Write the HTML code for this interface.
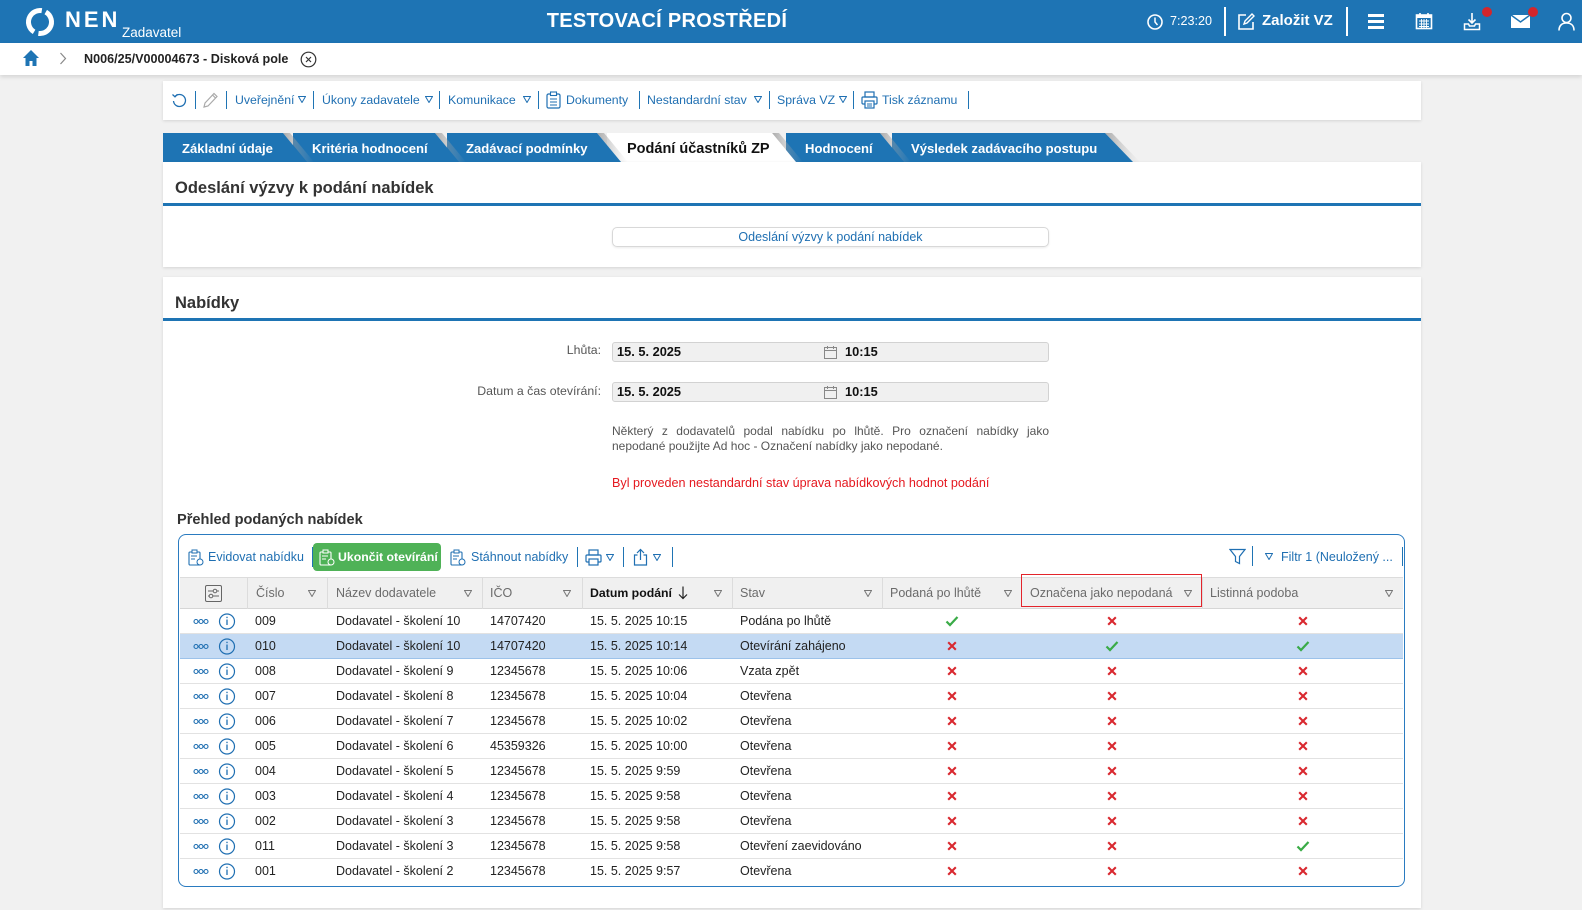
<!DOCTYPE html>
<html><head><meta charset="utf-8">
<style>
*{box-sizing:border-box;margin:0;padding:0}
body{width:1582px;height:910px;overflow:hidden;background:#f1f1f1;position:relative;font-family:"Liberation Sans",Arial,sans-serif}
.a{position:absolute;white-space:nowrap}
.w{color:#fff}
.bl{color:#1f6fb2}
.tb{font-size:12.3px;line-height:20px;top:90px;color:#1f6fb2}
.sep{position:absolute;width:1px;background:#1f74b4}
.h{font-size:12.5px;line-height:32px;top:577px;color:#6b6b6b}
.r{font-size:12.5px;line-height:25px;color:#222}
.row{position:absolute;left:180px;width:1223px;height:25px;border-bottom:1px solid #e2e2e2}
.vl{position:absolute;top:577px;height:32px;width:1px;background:#dcdcdc}
</style></head><body>

<!-- HEADER -->
<div class="a" style="left:0;top:0;width:1582px;height:43px;background:#1e74b4"></div>
<svg class="a" style="left:24px;top:7px" width="32" height="30" viewBox="0 0 32 30">
<circle cx="16" cy="15" r="11.5" fill="none" stroke="#fff" stroke-width="5" stroke-dasharray="31.5 4.6 31.5 4.6" transform="rotate(-60 16 15)"/>
</svg>
<div class="a w" style="left:65px;top:9px;font-size:22px;line-height:22px;font-weight:bold;letter-spacing:3px">NEN</div>
<div class="a w" style="left:122px;top:25px;font-size:13.5px;line-height:16px">Zadavatel</div>
<div class="a w" style="left:467px;top:9px;width:400px;text-align:center;font-size:20px;line-height:24px;font-weight:bold;letter-spacing:0.3px">TESTOVACÍ PROSTŘEDÍ</div>

<svg class="a" style="left:1146px;top:13px" width="18" height="18" viewBox="0 0 18 18"><circle cx="9" cy="9" r="7" fill="none" stroke="#fff" stroke-width="1.6"/><path d="M9 4.5V9l2.5 3" fill="none" stroke="#fff" stroke-width="1.5"/></svg>
<div class="a w" style="left:1170px;top:12px;font-size:12.6px;line-height:18px">7:23:20</div>
<div class="a" style="left:1224px;top:7px;width:2px;height:29px;background:#fff"></div>
<svg class="a" style="left:1237px;top:12px" width="19" height="19" viewBox="0 0 19 19"><path d="M9 3H2v14h14v-7" fill="none" stroke="#fff" stroke-width="1.6"/><path d="M7 12l1-3 7-7 2 2-7 7z" fill="none" stroke="#fff" stroke-width="1.4"/></svg>
<div class="a w" style="left:1262px;top:11px;font-size:15px;line-height:20px;font-weight:bold">Založit VZ</div>
<div class="a" style="left:1346px;top:7px;width:2px;height:29px;background:#fff"></div>
<div class="a" style="left:1368px;top:14px;width:16px;height:2.5px;background:#fff"></div>
<div class="a" style="left:1368px;top:20px;width:16px;height:2.5px;background:#fff"></div>
<div class="a" style="left:1368px;top:26px;width:16px;height:2.5px;background:#fff"></div>
<svg class="a" style="left:1415px;top:12px" width="18" height="18" viewBox="0 0 18 18"><rect x="1.5" y="3" width="15" height="13.5" fill="none" stroke="#fff" stroke-width="1.6"/><rect x="1.5" y="3" width="15" height="3" fill="#fff"/><path d="M5 1v3M13 1v3" stroke="#fff" stroke-width="1.6"/><path d="M4 9h10M4 12h10M4 14.5h10M6.5 7v9M9 7v9M11.5 7v9" stroke="#fff" stroke-width="0.9"/></svg>
<svg class="a" style="left:1463px;top:12px" width="18" height="19" viewBox="0 0 18 19"><path d="M9 1v10M5.5 7.5L9 11l3.5-3.5" fill="none" stroke="#fff" stroke-width="1.6"/><path d="M1.5 12v5.5h15V12h-4l-1 2h-5l-1-2z" fill="none" stroke="#fff" stroke-width="1.5"/></svg>
<div class="a" style="left:1482px;top:7px;width:10px;height:10px;border-radius:50%;background:#d3262c"></div>
<svg class="a" style="left:1510px;top:14px" width="21" height="15" viewBox="0 0 21 15"><rect x="1" y="1" width="19" height="13" fill="#fff"/><path d="M1 1l9.5 7L20 1" fill="none" stroke="#1e74b4" stroke-width="1.5"/></svg>
<div class="a" style="left:1528px;top:7px;width:10px;height:10px;border-radius:50%;background:#d3262c"></div>
<svg class="a" style="left:1557px;top:12px" width="19" height="19" viewBox="0 0 19 19"><circle cx="9.5" cy="6" r="4.5" fill="none" stroke="#fff" stroke-width="1.6"/><path d="M2 18.5c0-5 3-7.5 7.5-7.5s7.5 2.5 7.5 7.5" fill="none" stroke="#fff" stroke-width="1.6"/></svg>

<!-- BREADCRUMB -->
<div class="a" style="left:0;top:43px;width:1582px;height:32px;background:#fff;box-shadow:0 2px 4px rgba(0,0,0,0.12)"></div>
<svg class="a" style="left:22px;top:49px" width="18" height="18" viewBox="0 0 18 18"><path d="M9 1L1 9h2.5v8h4v-5h3v5h4V9H17z" fill="#1e74b4"/></svg>
<svg class="a" style="left:59px;top:52px" width="8" height="13" viewBox="0 0 8 13"><path d="M1.5 1l5 5.5-5 5.5" fill="none" stroke="#888" stroke-width="1.2"/></svg>
<div class="a" style="left:84px;top:50px;font-size:12.6px;line-height:18px;font-weight:bold;color:#222">N006/25/V00004673 - Disková pole</div>
<svg class="a" style="left:300px;top:51px" width="17" height="17" viewBox="0 0 17 17"><circle cx="8.5" cy="8.5" r="7.3" fill="none" stroke="#333" stroke-width="1.2"/><path d="M6 6l5 5M11 6l-5 5" stroke="#333" stroke-width="1.2"/></svg>

<!-- TOOLBAR PANEL -->
<div class="a" style="left:163px;top:81px;width:1258px;height:39px;background:#fff;box-shadow:0 1px 3px rgba(0,0,0,0.12)"></div>
<svg class="a" style="left:171px;top:92px" width="17" height="17" viewBox="0 0 17 17"><path d="M4 4.5A6 6 0 1 1 2.5 9" fill="none" stroke="#1f6fb2" stroke-width="1.3"/><path d="M1.5 2.5L4 4.8 6.5 2.3" fill="none" stroke="#1f6fb2" stroke-width="1.3"/></svg>
<div class="sep" style="left:195px;top:91px;height:18px"></div>
<svg class="a" style="left:202px;top:91px" width="17" height="18" viewBox="0 0 17 18"><path d="M2 16l1-4 9-9.5 3 3L6 15z M10.5 4l3 3" fill="none" stroke="#aaa" stroke-width="1.2"/></svg>
<div class="sep" style="left:226px;top:91px;height:18px"></div>
<div class="a tb" style="left:235px">Uveřejnění</div>
<svg class="a" style="left:298px;top:96px" width="8" height="7"><path d="M0.5 0.5H7.5L4 6.5Z" fill="none" stroke="#1f6fb2"/></svg>
<div class="sep" style="left:313px;top:91px;height:18px"></div>
<div class="a tb" style="left:322px">Úkony zadavatele</div>
<svg class="a" style="left:425px;top:96px" width="8" height="7"><path d="M0.5 0.5H7.5L4 6.5Z" fill="none" stroke="#1f6fb2"/></svg>
<div class="sep" style="left:439px;top:91px;height:18px"></div>
<div class="a tb" style="left:448px">Komunikace</div>
<svg class="a" style="left:523px;top:96px" width="8" height="7"><path d="M0.5 0.5H7.5L4 6.5Z" fill="none" stroke="#1f6fb2"/></svg>
<div class="sep" style="left:538px;top:91px;height:18px"></div>
<svg class="a" style="left:546px;top:91px" width="15" height="18" viewBox="0 0 15 18"><rect x="1" y="3" width="13" height="14" rx="1.5" fill="none" stroke="#1f6fb2" stroke-width="1.2"/><rect x="4.5" y="1" width="6" height="3.5" fill="#fff" stroke="#1f6fb2" stroke-width="1.1"/><path d="M4 8h7M4 11h7M4 14h7" stroke="#1f6fb2"/></svg>
<div class="a tb" style="left:566px">Dokumenty</div>
<div class="sep" style="left:639px;top:91px;height:18px"></div>
<div class="a tb" style="left:647px">Nestandardní stav</div>
<svg class="a" style="left:754px;top:96px" width="8" height="7"><path d="M0.5 0.5H7.5L4 6.5Z" fill="none" stroke="#1f6fb2"/></svg>
<div class="sep" style="left:769px;top:91px;height:18px"></div>
<div class="a tb" style="left:777px">Správa VZ</div>
<svg class="a" style="left:839px;top:96px" width="8" height="7"><path d="M0.5 0.5H7.5L4 6.5Z" fill="none" stroke="#1f6fb2"/></svg>
<div class="sep" style="left:853px;top:91px;height:18px"></div>
<svg class="a" style="left:861px;top:91px" width="17" height="18" viewBox="0 0 17 18"><rect x="4" y="1" width="9" height="5" fill="none" stroke="#1f6fb2" stroke-width="1.2"/><rect x="1" y="6" width="15" height="7" rx="1" fill="none" stroke="#1f6fb2" stroke-width="1.2"/><rect x="4" y="10" width="9" height="7" fill="#fff" stroke="#1f6fb2" stroke-width="1.2"/><path d="M6 13h5M6 15h5" stroke="#1f6fb2"/></svg>
<div class="a tb" style="left:882px">Tisk záznamu</div>
<div class="sep" style="left:968px;top:91px;height:18px"></div>

<!-- TABS -->
<svg class="a" style="left:0;top:133px" width="1200" height="30" viewBox="0 0 1200 30">
<defs><linearGradient id="sh" x1="0" x2="1" y1="0" y2="0"><stop offset="0" stop-color="#8d8d8d" stop-opacity="0.7"/><stop offset="1" stop-color="#bbb" stop-opacity="0"/></linearGradient></defs>
<polygon points="1105,0 1112,0 1140,29 1133,29" fill="url(#sh)"/>
<polygon points="892,0 1105,0 1133,29 892,29" fill="#1e74b4"/>
<polygon points="880,0 887,0 911,29 904,29" fill="url(#sh)"/>
<polygon points="786,0 880,0 904,29 786,29" fill="#1e74b4"/>
<polygon points="772,0 779,0 803,29 796,29" fill="url(#sh)"/>
<polygon points="607,0 772,0 796,29 607,29" fill="#fff"/>
<polygon points="597,0 604,0 628,29 621,29" fill="url(#sh)"/>
<polygon points="447,0 597,0 621,29 447,29" fill="#1e74b4"/>
<polygon points="435,0 442,0 466,29 459,29" fill="url(#sh)"/>
<polygon points="293,0 435,0 459,29 293,29" fill="#1e74b4"/>
<polygon points="283,0 290,0 314,29 307,29" fill="url(#sh)"/>
<polygon points="163,0 283,0 307,29 163,29" fill="#1e74b4"/>
</svg>
<div class="a w" style="left:182px;top:140px;font-size:13.1px;line-height:18px;font-weight:bold">Základní údaje</div>
<div class="a w" style="left:312px;top:140px;font-size:13.1px;line-height:18px;font-weight:bold">Kritéria hodnocení</div>
<div class="a w" style="left:466px;top:140px;font-size:13.1px;line-height:18px;font-weight:bold">Zadávací podmínky</div>
<div class="a" style="left:627px;top:139px;font-size:14.5px;line-height:20px;font-weight:bold;color:#111">Podání účastníků ZP</div>
<div class="a w" style="left:805px;top:140px;font-size:13.1px;line-height:18px;font-weight:bold">Hodnocení</div>
<div class="a w" style="left:911px;top:140px;font-size:13.1px;line-height:18px;font-weight:bold">Výsledek zadávacího postupu</div>

<!-- PANEL 1 -->
<div class="a" style="left:163px;top:162px;width:1258px;height:105px;background:#fff;box-shadow:0 1px 3px rgba(0,0,0,0.12)"></div>
<div class="a" style="left:175px;top:177px;font-size:16.5px;line-height:22px;font-weight:bold;color:#333">Odeslání výzvy k podání nabídek</div>
<div class="a" style="left:163px;top:203px;width:1258px;height:3px;background:#1e74b4"></div>
<div class="a bl" style="left:612px;top:227px;width:437px;height:20px;border:1px solid #d8d8d8;border-radius:5px;box-shadow:0 1px 2px rgba(0,0,0,0.08);text-align:center;font-size:12.5px;line-height:18px">Odeslání výzvy k podání nabídek</div>

<!-- PANEL 2 -->
<div class="a" style="left:163px;top:277px;width:1258px;height:631px;background:#fff;box-shadow:0 1px 3px rgba(0,0,0,0.12)"></div>
<div class="a" style="left:175px;top:292px;font-size:16.5px;line-height:22px;font-weight:bold;color:#333">Nabídky</div>
<div class="a" style="left:163px;top:318px;width:1258px;height:3px;background:#1e74b4"></div>

<div class="a" style="left:400px;width:201px;text-align:right;top:341px;font-size:12.3px;line-height:18px;color:#555">Lhůta:</div>
<div class="a" style="left:612px;top:342px;width:437px;height:20px;background:#f0f0f0;border:1px solid #d2d2d2;border-radius:3px"></div>
<div class="a" style="left:617px;top:343px;font-size:12.8px;line-height:18px;font-weight:bold;color:#111">15. 5. 2025</div>
<svg class="a" style="left:824px;top:346px" width="13" height="13" viewBox="0 0 13 13"><rect x="0.5" y="1.5" width="12" height="11" fill="none" stroke="#888"/><path d="M0.5 4.5h12M3.5 0v3M9.5 0v3" stroke="#888"/></svg>
<div class="a" style="left:845px;top:343px;font-size:12.8px;line-height:18px;font-weight:bold;color:#111">10:15</div>

<div class="a" style="left:400px;width:201px;text-align:right;top:382px;font-size:12.3px;line-height:18px;color:#555">Datum a čas otevírání:</div>
<div class="a" style="left:612px;top:382px;width:437px;height:20px;background:#f0f0f0;border:1px solid #d2d2d2;border-radius:3px"></div>
<div class="a" style="left:617px;top:383px;font-size:12.8px;line-height:18px;font-weight:bold;color:#111">15. 5. 2025</div>
<svg class="a" style="left:824px;top:386px" width="13" height="13" viewBox="0 0 13 13"><rect x="0.5" y="1.5" width="12" height="11" fill="none" stroke="#888"/><path d="M0.5 4.5h12M3.5 0v3M9.5 0v3" stroke="#888"/></svg>
<div class="a" style="left:845px;top:383px;font-size:12.8px;line-height:18px;font-weight:bold;color:#111">10:15</div>

<div class="a" style="left:612px;top:424px;width:437px;font-size:12px;line-height:15px;color:#555;text-align:justify;text-align-last:justify;white-space:normal">Některý z dodavatelů podal nabídku po lhůtě. Pro označení nabídky jako</div>
<div class="a" style="left:612px;top:439px;font-size:12px;line-height:15px;color:#555">nepodané použijte Ad hoc - Označení nabídky jako nepodané.</div>

<div class="a" style="left:612px;top:474px;font-size:12.6px;line-height:18px;color:#e5181f">Byl proveden nestandardní stav úprava nabídkových hodnot podání</div>

<div class="a" style="left:177px;top:510px;font-size:14.6px;line-height:20px;font-weight:bold;color:#333">Přehled podaných nabídek</div>

<!-- TABLE CONTAINER -->
<div class="a" style="left:178px;top:534px;width:1227px;height:353px;border:1.5px solid #2a7bc0;border-radius:8px;background:#fff"></div>
<svg class="a" style="left:188px;top:549px" width="16" height="17" viewBox="0 0 16 17"><rect x="1" y="3" width="11" height="13" rx="1" fill="none" stroke="#1f6fb2" stroke-width="1.1"/><rect x="4" y="1" width="5" height="3" fill="#fff" stroke="#1f6fb2"/><path d="M3 7h6M3 10h4" stroke="#1f6fb2"/><circle cx="12" cy="13" r="3" fill="#fff" stroke="#1f6fb2"/></svg>
<div class="a bl" style="left:208px;top:548px;font-size:12.5px;line-height:18px">Evidovat nabídku</div>
<div class="sep" style="left:312px;top:547px;height:20px"></div>
<div class="a" style="left:313px;top:543px;width:128px;height:28px;background:#4fb257;border-radius:4px"></div>
<svg class="a" style="left:319px;top:549px" width="16" height="17" viewBox="0 0 16 17"><rect x="1" y="3" width="11" height="13" rx="1" fill="none" stroke="#fff" stroke-width="1.1"/><rect x="4" y="1" width="5" height="3" fill="#4fb257" stroke="#fff"/><path d="M3 7h6M3 10h4" stroke="#fff"/><circle cx="12" cy="13" r="3" fill="#4fb257" stroke="#fff"/></svg>
<div class="a w" style="left:338px;top:548px;font-size:12.3px;line-height:18px;font-weight:bold">Ukončit otevírání</div>
<svg class="a" style="left:450px;top:549px" width="16" height="17" viewBox="0 0 16 17"><rect x="1" y="3" width="11" height="13" rx="1" fill="none" stroke="#1f6fb2" stroke-width="1.1"/><rect x="4" y="1" width="5" height="3" fill="#fff" stroke="#1f6fb2"/><path d="M3 7h6M3 10h4" stroke="#1f6fb2"/><circle cx="12" cy="13" r="3" fill="#fff" stroke="#1f6fb2"/></svg>
<div class="a bl" style="left:471px;top:548px;font-size:12.5px;line-height:18px">Stáhnout nabídky</div>
<div class="sep" style="left:577px;top:547px;height:20px"></div>
<svg class="a" style="left:585px;top:549px" width="17" height="17" viewBox="0 0 17 17"><rect x="4" y="1" width="9" height="5" fill="none" stroke="#1f6fb2" stroke-width="1.2"/><rect x="1" y="6" width="15" height="7" rx="1" fill="none" stroke="#1f6fb2" stroke-width="1.2"/><rect x="4" y="10" width="9" height="6" fill="#fff" stroke="#1f6fb2" stroke-width="1.2"/></svg>
<svg class="a" style="left:606px;top:554px" width="8" height="7"><path d="M0.5 0.5H7.5L4 6.5Z" fill="none" stroke="#1f6fb2"/></svg>
<div class="sep" style="left:623px;top:547px;height:20px"></div>
<svg class="a" style="left:633px;top:548px" width="15" height="18" viewBox="0 0 15 18"><path d="M4.5 7H1.5v10h12V7h-3" fill="none" stroke="#1f6fb2" stroke-width="1.2"/><path d="M7.5 12V1.5M4 5l3.5-3.5L11 5" fill="none" stroke="#1f6fb2" stroke-width="1.2"/></svg>
<svg class="a" style="left:653px;top:554px" width="8" height="7"><path d="M0.5 0.5H7.5L4 6.5Z" fill="none" stroke="#1f6fb2"/></svg>
<div class="sep" style="left:672px;top:547px;height:20px"></div>

<svg class="a" style="left:1229px;top:548px" width="17" height="17" viewBox="0 0 17 17"><path d="M1 1.5h15l-5.5 7v7l-4-2v-5z" fill="none" stroke="#1f6fb2" stroke-width="1.2"/></svg>
<div class="sep" style="left:1252px;top:546px;height:20px"></div>
<svg class="a" style="left:1265px;top:553px" width="8" height="7"><path d="M0.5 0.5H7.5L4 6.5Z" fill="none" stroke="#1f6fb2"/></svg>
<div class="a bl" style="left:1281px;top:548px;font-size:12.5px;line-height:18px">Filtr 1 (Neuložený ...</div>
<div class="sep" style="left:1402px;top:547px;height:19px"></div>

<!-- HEADER ROW -->
<div class="a" style="left:180px;top:577px;width:1223px;height:32px;background:#f0f0f0;border-top:1px solid #dcdcdc;border-bottom:1px solid #d6d6d6"></div>
<div class="vl" style="left:247px"></div>
<div class="vl" style="left:327px"></div>
<div class="vl" style="left:482px"></div>
<div class="vl" style="left:582px"></div>
<div class="vl" style="left:732px"></div>
<div class="vl" style="left:882px"></div>
<div class="vl" style="left:1202px"></div>
<svg class="a" style="left:205px;top:585px" width="17" height="17" viewBox="0 0 17 17"><rect x="0.5" y="0.5" width="16" height="16" rx="1.5" fill="none" stroke="#666"/><path d="M3 6h11M3 11h11" stroke="#666"/><circle cx="10" cy="6" r="1.8" fill="#f0f0f0" stroke="#666"/><circle cx="6" cy="11" r="1.8" fill="#f0f0f0" stroke="#666"/></svg>
<div class="a h" style="left:256px">Číslo</div>
<div class="a h" style="left:336px">Název dodavatele</div>
<div class="a h" style="left:490px">IČO</div>
<div class="a h" style="left:590px;color:#111;font-weight:bold;font-size:12.3px">Datum podání</div>
<svg class="a" style="left:678px;top:586px" width="10" height="14" viewBox="0 0 10 14"><path d="M5 0.5v12M1 8.5l4 4 4-4" fill="none" stroke="#222" stroke-width="1.2"/></svg>
<div class="a h" style="left:740px">Stav</div>
<div class="a h" style="left:890px">Podaná po lhůtě</div>
<div class="a h" style="left:1030px">Označena jako nepodaná</div>
<div class="a h" style="left:1210px">Listinná podoba</div>
<svg class="a" style="left:308px;top:590px" width="8" height="7"><path d="M0.5 0.5H7.5L4 6.5Z" fill="none" stroke="#777"/></svg>
<svg class="a" style="left:464px;top:590px" width="8" height="7"><path d="M0.5 0.5H7.5L4 6.5Z" fill="none" stroke="#777"/></svg>
<svg class="a" style="left:563px;top:590px" width="8" height="7"><path d="M0.5 0.5H7.5L4 6.5Z" fill="none" stroke="#777"/></svg>
<svg class="a" style="left:714px;top:590px" width="8" height="7"><path d="M0.5 0.5H7.5L4 6.5Z" fill="none" stroke="#777"/></svg>
<svg class="a" style="left:864px;top:590px" width="8" height="7"><path d="M0.5 0.5H7.5L4 6.5Z" fill="none" stroke="#777"/></svg>
<svg class="a" style="left:1004px;top:590px" width="8" height="7"><path d="M0.5 0.5H7.5L4 6.5Z" fill="none" stroke="#777"/></svg>
<svg class="a" style="left:1184px;top:590px" width="8" height="7"><path d="M0.5 0.5H7.5L4 6.5Z" fill="none" stroke="#777"/></svg>
<svg class="a" style="left:1385px;top:590px" width="8" height="7"><path d="M0.5 0.5H7.5L4 6.5Z" fill="none" stroke="#777"/></svg>
<div class="a" style="left:1021px;top:574px;width:181px;height:33px;border:1.5px solid #e3242b"></div>

<!-- ROWS -->
<div class="row" style="top:609px"></div>
<div class="row" style="top:634px;background:#c4daf3;border-bottom:1px solid #9cc2ea"></div>
<div class="row" style="top:659px"></div>
<div class="row" style="top:684px"></div>
<div class="row" style="top:709px"></div>
<div class="row" style="top:734px"></div>
<div class="row" style="top:759px"></div>
<div class="row" style="top:784px"></div>
<div class="row" style="top:809px"></div>
<div class="row" style="top:834px"></div>
<div class="row" style="top:859px;border-bottom:none"></div>

<svg class="a" style="left:191px;top:609px" width="50" height="275" viewBox="0 0 50 275">
<defs><g id="ic"><circle cx="5" cy="12.5" r="2" fill="none" stroke="#1f6fb2" stroke-width="1.1"/><circle cx="10" cy="12.5" r="2" fill="none" stroke="#1f6fb2" stroke-width="1.1"/><circle cx="15" cy="12.5" r="2" fill="none" stroke="#1f6fb2" stroke-width="1.1"/><circle cx="36" cy="12.5" r="7.5" fill="none" stroke="#1f6fb2" stroke-width="1.2"/><path d="M36 10.5v5.5M36 7.8v1.3" stroke="#1f6fb2" stroke-width="1.3"/></g></defs>
<use href="#ic" y="0"/><use href="#ic" y="25"/><use href="#ic" y="50"/><use href="#ic" y="75"/><use href="#ic" y="100"/><use href="#ic" y="125"/><use href="#ic" y="150"/><use href="#ic" y="175"/><use href="#ic" y="200"/><use href="#ic" y="225"/><use href="#ic" y="250"/>
</svg>

<div class="a r" style="left:255px;top:609px">009<br>010<br>008<br>007<br>006<br>005<br>004<br>003<br>002<br>011<br>001</div>
<div class="a r" style="left:336px;top:609px">Dodavatel - školení 10<br>Dodavatel - školení 10<br>Dodavatel - školení 9<br>Dodavatel - školení 8<br>Dodavatel - školení 7<br>Dodavatel - školení 6<br>Dodavatel - školení 5<br>Dodavatel - školení 4<br>Dodavatel - školení 3<br>Dodavatel - školení 3<br>Dodavatel - školení 2</div>
<div class="a r" style="left:490px;top:609px">14707420<br>14707420<br>12345678<br>12345678<br>12345678<br>45359326<br>12345678<br>12345678<br>12345678<br>12345678<br>12345678</div>
<div class="a r" style="left:590px;top:609px">15. 5. 2025 10:15<br>15. 5. 2025 10:14<br>15. 5. 2025 10:06<br>15. 5. 2025 10:04<br>15. 5. 2025 10:02<br>15. 5. 2025 10:00<br>15. 5. 2025 9:59<br>15. 5. 2025 9:58<br>15. 5. 2025 9:58<br>15. 5. 2025 9:58<br>15. 5. 2025 9:57</div>
<div class="a r" style="left:740px;top:609px">Podána po lhůtě<br>Otevírání zahájeno<br>Vzata zpět<br>Otevřena<br>Otevřena<br>Otevřena<br>Otevřena<br>Otevřena<br>Otevřena<br>Otevření zaevidováno<br>Otevřena</div>

<!-- marks -->
<svg class="a" style="left:900px;top:609px" width="450" height="275" viewBox="900 0 450 275">
<defs>
<path id="ck" d="M-5.5 0.5L-2 4 5.5-4" fill="none" stroke="#3aab47" stroke-width="2.2"/>
<path id="x" d="M-3.8-3.8L3.8 3.8M3.8-3.8L-3.8 3.8" fill="none" stroke="#d9282f" stroke-width="2.1"/>
</defs>
<use href="#ck" x="952" y="12"/><use href="#x" x="1112" y="12"/><use href="#x" x="1303" y="12"/>
<use href="#x" x="952" y="37"/><use href="#ck" x="1112" y="37"/><use href="#ck" x="1303" y="37"/>
<use href="#x" x="952" y="62"/><use href="#x" x="1112" y="62"/><use href="#x" x="1303" y="62"/>
<use href="#x" x="952" y="87"/><use href="#x" x="1112" y="87"/><use href="#x" x="1303" y="87"/>
<use href="#x" x="952" y="112"/><use href="#x" x="1112" y="112"/><use href="#x" x="1303" y="112"/>
<use href="#x" x="952" y="137"/><use href="#x" x="1112" y="137"/><use href="#x" x="1303" y="137"/>
<use href="#x" x="952" y="162"/><use href="#x" x="1112" y="162"/><use href="#x" x="1303" y="162"/>
<use href="#x" x="952" y="187"/><use href="#x" x="1112" y="187"/><use href="#x" x="1303" y="187"/>
<use href="#x" x="952" y="212"/><use href="#x" x="1112" y="212"/><use href="#x" x="1303" y="212"/>
<use href="#x" x="952" y="237"/><use href="#x" x="1112" y="237"/><use href="#ck" x="1303" y="237"/>
<use href="#x" x="952" y="262"/><use href="#x" x="1112" y="262"/><use href="#x" x="1303" y="262"/>
</svg>

</body></html>
